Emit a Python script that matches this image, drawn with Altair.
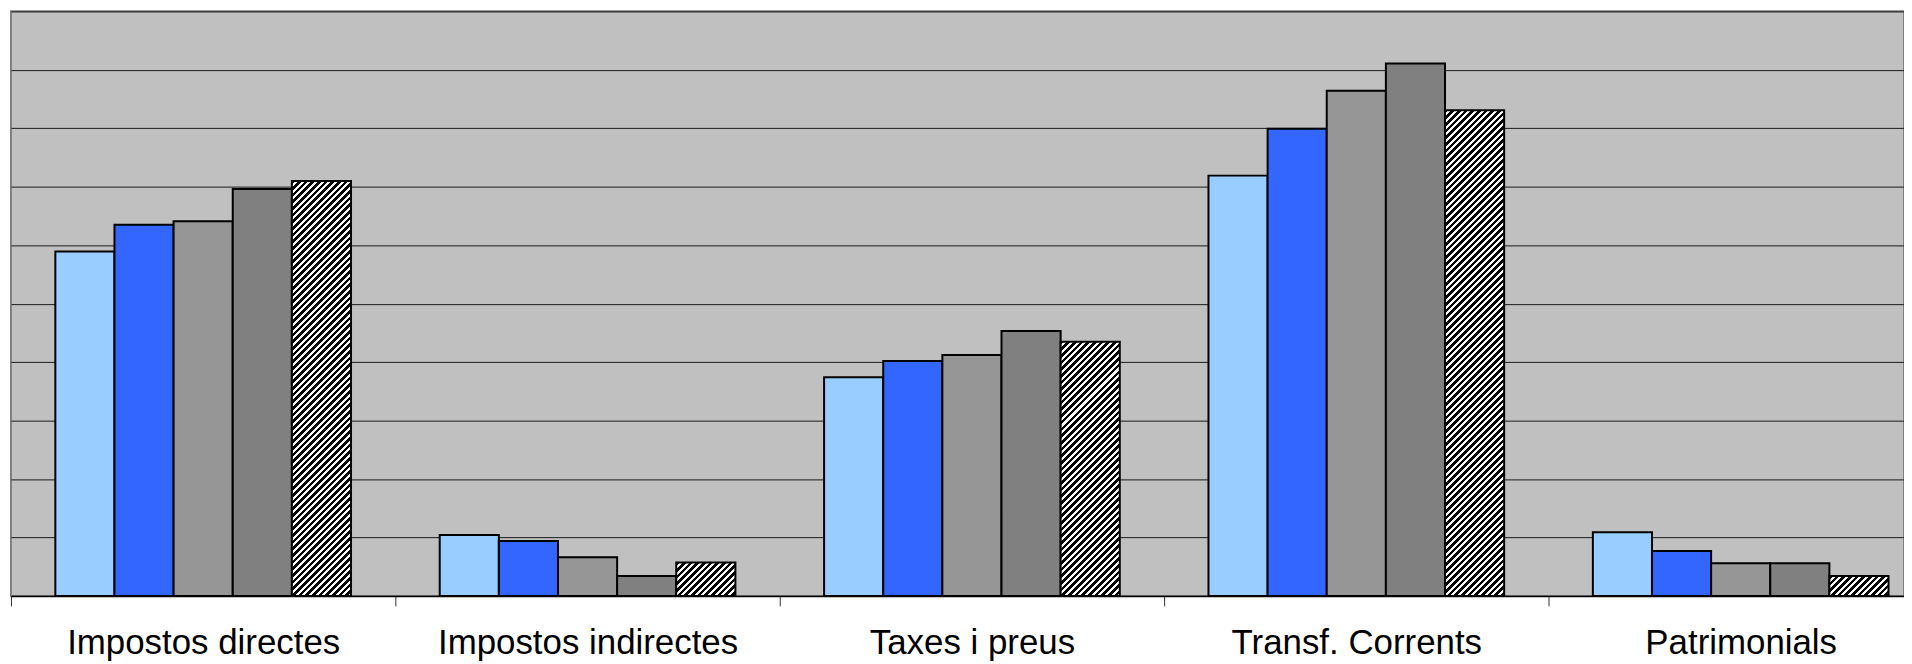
import math
import altair as alt

# ---- data (units of one gridline step) ----
categories = ["Impostos directes", "Impostos indirectes", "Taxes i preus",
              "Transf. Corrents", "Patrimonials"]
series = ["Sèrie 1", "Sèrie 2", "Sèrie 3", "Sèrie 4", "Sèrie 5"]
s1 = [5.89, 1.04, 3.74, 7.19, 1.09]
s2 = [6.35, 0.94, 4.02, 7.99, 0.77]
s3 = [6.41, 0.66, 4.12, 8.64, 0.56]
s4 = [6.96, 0.34, 4.53, 9.11, 0.56]
s5 = [7.10, 0.57, 4.35, 8.31, 0.34]
y_ticks = list(range(11))

# ---- styles / layout ----
series_colors = ["#99CCFF", "#3366FF", "#969696", "#808080", None]  # None -> hatched
PLOT_W = 1901
PLOT_H = 587
STEP = 386
YMAX = 10
OUTER = 0.75
BAR_W = STEP / (5 + 2 * OUTER)


def hatch(h, w=BAR_W, period=6.7, dark=0.55):
    """Diagonal black/white stripes ("/") as a linear gradient at 45 degrees."""
    h = max(h, 1.0)
    k = (w + h) / (w * w + h * h)
    n = int(math.ceil((w + h) / period))
    dt = period / (w + h)
    stops = []
    for i in range(n):
        t0 = min(i * dt, 1.0)
        t1 = min(t0 + dark * dt, 1.0)
        t2 = min(t0 + dt, 1.0)
        stops += [
            {"offset": round(t0, 5), "color": "#000000"},
            {"offset": round(t1, 5), "color": "#000000"},
            {"offset": round(t1, 5), "color": "#ffffff"},
            {"offset": round(t2, 5), "color": "#ffffff"},
        ]
    return {"gradient": "linear", "x1": 0, "y1": 0,
            "x2": k * w, "y2": k * h, "stops": stops}


rows = []
all_series = [s1, s2, s3, s4, s5]
for ci, cat in enumerate(categories):
    for si, name in enumerate(series):
        v = all_series[si][ci]
        col = series_colors[si]
        fill = col if col else hatch(v * PLOT_H / YMAX)
        rows.append({"cat": cat, "series": name, "value": v, "fill": fill})

chart = alt.Chart(alt.Data(values=rows)).mark_bar(
    stroke="black", strokeWidth=2
).encode(
    x=alt.X(
        "cat:N", sort=categories,
        scale=alt.Scale(range=[0, STEP * 5], paddingInner=0, paddingOuter=0),
        axis=alt.Axis(
            title=None, labelAngle=0, tickBand="extent", tickSize=10,
            tickColor="#333333", tickWidth=1, domainColor="#000000",
            domainWidth=1.5, labelFont="Liberation Sans", labelFontSize=35,
            labelColor="#000000", labelBaseline="alphabetic", labelPadding=48,
            labelLimit=0, labelOverlap=False, labelFlush=False,
        ),
    ),
    xOffset=alt.XOffset(
        "series:N", sort=series,
        scale=alt.Scale(paddingInner=0, paddingOuter=OUTER),
    ),
    y=alt.Y(
        "value:Q",
        scale=alt.Scale(domain=[0, YMAX], nice=False, zero=True),
        axis=alt.Axis(
            title=None, labels=False, ticks=False, domain=False,
            values=y_ticks, gridColor="#1a1a1a", gridWidth=1,
        ),
    ),
    color=alt.Color("fill:N", scale=None),
).properties(
    width=PLOT_W,
    height=PLOT_H,
    autosize=alt.AutoSizeParams(type="none"),
    padding={"left": 3, "top": 2, "right": 0, "bottom": 67},
    background="white",
).configure_view(
    fill="#C0C0C0", stroke="#808080", strokeWidth=2
)

chart.save("out.html", embed_options={"renderer": "svg", "actions": False})
